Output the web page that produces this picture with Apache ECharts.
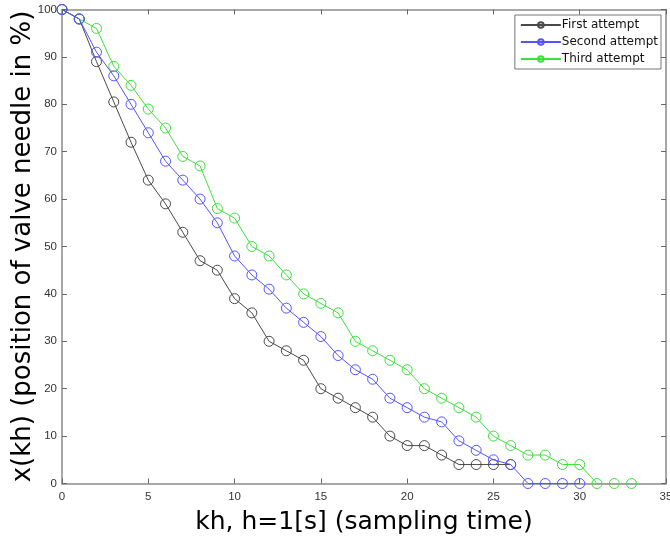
<!DOCTYPE html>
<html>
<head>
<meta charset="utf-8">
<script src="https://cdn.jsdelivr.net/npm/echarts@6/dist/echarts.min.js"></script>
<style>html,body{margin:0;padding:0;background:#fff;}#c{width:670px;height:543px;}</style>
</head>
<body>
<div id="c"></div>
<script>
const seriesNames = ['First attempt', 'Second attempt', 'Third attempt'];
const firstAttempt = [100, 98, 89, 80.5, 72, 64, 59, 53, 47, 45, 39, 36, 30, 28, 26, 20, 18, 16, 14, 10, 8, 8, 6, 4, 4, 4, 4];
const secondAttempt = [100, 98, 91, 86, 80, 74, 68, 64, 60, 55, 48, 44, 41, 37, 34, 31, 27, 24, 22, 18, 16, 14, 13, 9, 7, 5, 4, 0, 0, 0, 0];
const thirdAttempt = [100, 98, 96, 88, 84, 79, 75, 69, 67, 58, 56, 50, 48, 44, 40, 38, 36, 30, 28, 26, 24, 20, 18, 16, 14, 10, 8, 6, 6, 4, 4, 0, 0, 0];
const xTitle = 'kh, h=1[s] (sampling time)';
const yTitle = 'x(kh) (position of valve needle in %)';

function pairs(arr){ return arr.map((v,i)=>[i,v]); }

const colors = ['#4a4a4a', '#5555ff', '#3ee03e'];
const chart = echarts.init(document.getElementById('c'), null, {renderer:'canvas'});

const axisCommon = {
  axisLine:{show:true, onZero:false, lineStyle:{color:'#8a8a8a', width:1.5}},
  axisTick:{show:true, inside:true, length:5, lineStyle:{color:'#666', width:1}},
  splitLine:{show:false}
};

function mkSeries(i, arr, z){
  return {name:seriesNames[i], type:'line', data:pairs(arr), symbol:'circle', symbolSize:10,
    color:colors[i], lineStyle:{width:1, color:colors[i]},
    itemStyle:{color:'rgba(255,255,255,0)', borderColor:colors[i], borderWidth:1}, z:z};
}

chart.setOption({
  animation:false,
  backgroundColor:'#fff',
  grid:{left:62, right:4, top:9.5, bottom:59.5, containLabel:false, outerBoundsMode:'none'},
  legend:{
    orient:'vertical', right:9, top:15,
    backgroundColor:'#fff', borderColor:'#777', borderWidth:1, borderRadius:0,
    padding:[4,3,4,5], itemGap:5, itemWidth:40, itemHeight:7,
    textStyle:{fontFamily:'DejaVu Sans', fontSize:12, color:'#111', padding:[0,0,0,-4]},
    data:seriesNames
  },
  xAxis:[
    Object.assign({type:'value', min:0, max:35, interval:5, position:'bottom',
      name:xTitle, nameLocation:'middle', nameGap:26, nameMoveOverlap:false,
      nameTextStyle:{fontFamily:'DejaVu Sans', fontSize:25, color:'#000'},
      axisLabel:{fontFamily:'Liberation Sans', fontSize:11.5, color:'#333', margin:7, showMaxLabel:true}
    }, axisCommon),
    Object.assign({type:'value', min:0, max:35, interval:5, position:'top',
      axisLabel:{show:false}}, axisCommon)
  ],
  yAxis:[
    Object.assign({type:'value', min:0, max:100, interval:10, position:'left',
      name:yTitle, nameLocation:'middle', nameGap:26, nameMoveOverlap:false,
      nameTextStyle:{fontFamily:'DejaVu Sans', fontSize:26, color:'#000'},
      axisLabel:{fontFamily:'Liberation Sans', fontSize:11.5, color:'#333', margin:5}
    }, axisCommon),
    Object.assign({type:'value', min:0, max:100, interval:10, position:'right',
      axisLabel:{show:false}}, axisCommon)
  ],
  series:[
    mkSeries(0, firstAttempt, 3),
    mkSeries(1, secondAttempt, 4),
    mkSeries(2, thirdAttempt, 2)
  ]
});
</script>
</body>
</html>
